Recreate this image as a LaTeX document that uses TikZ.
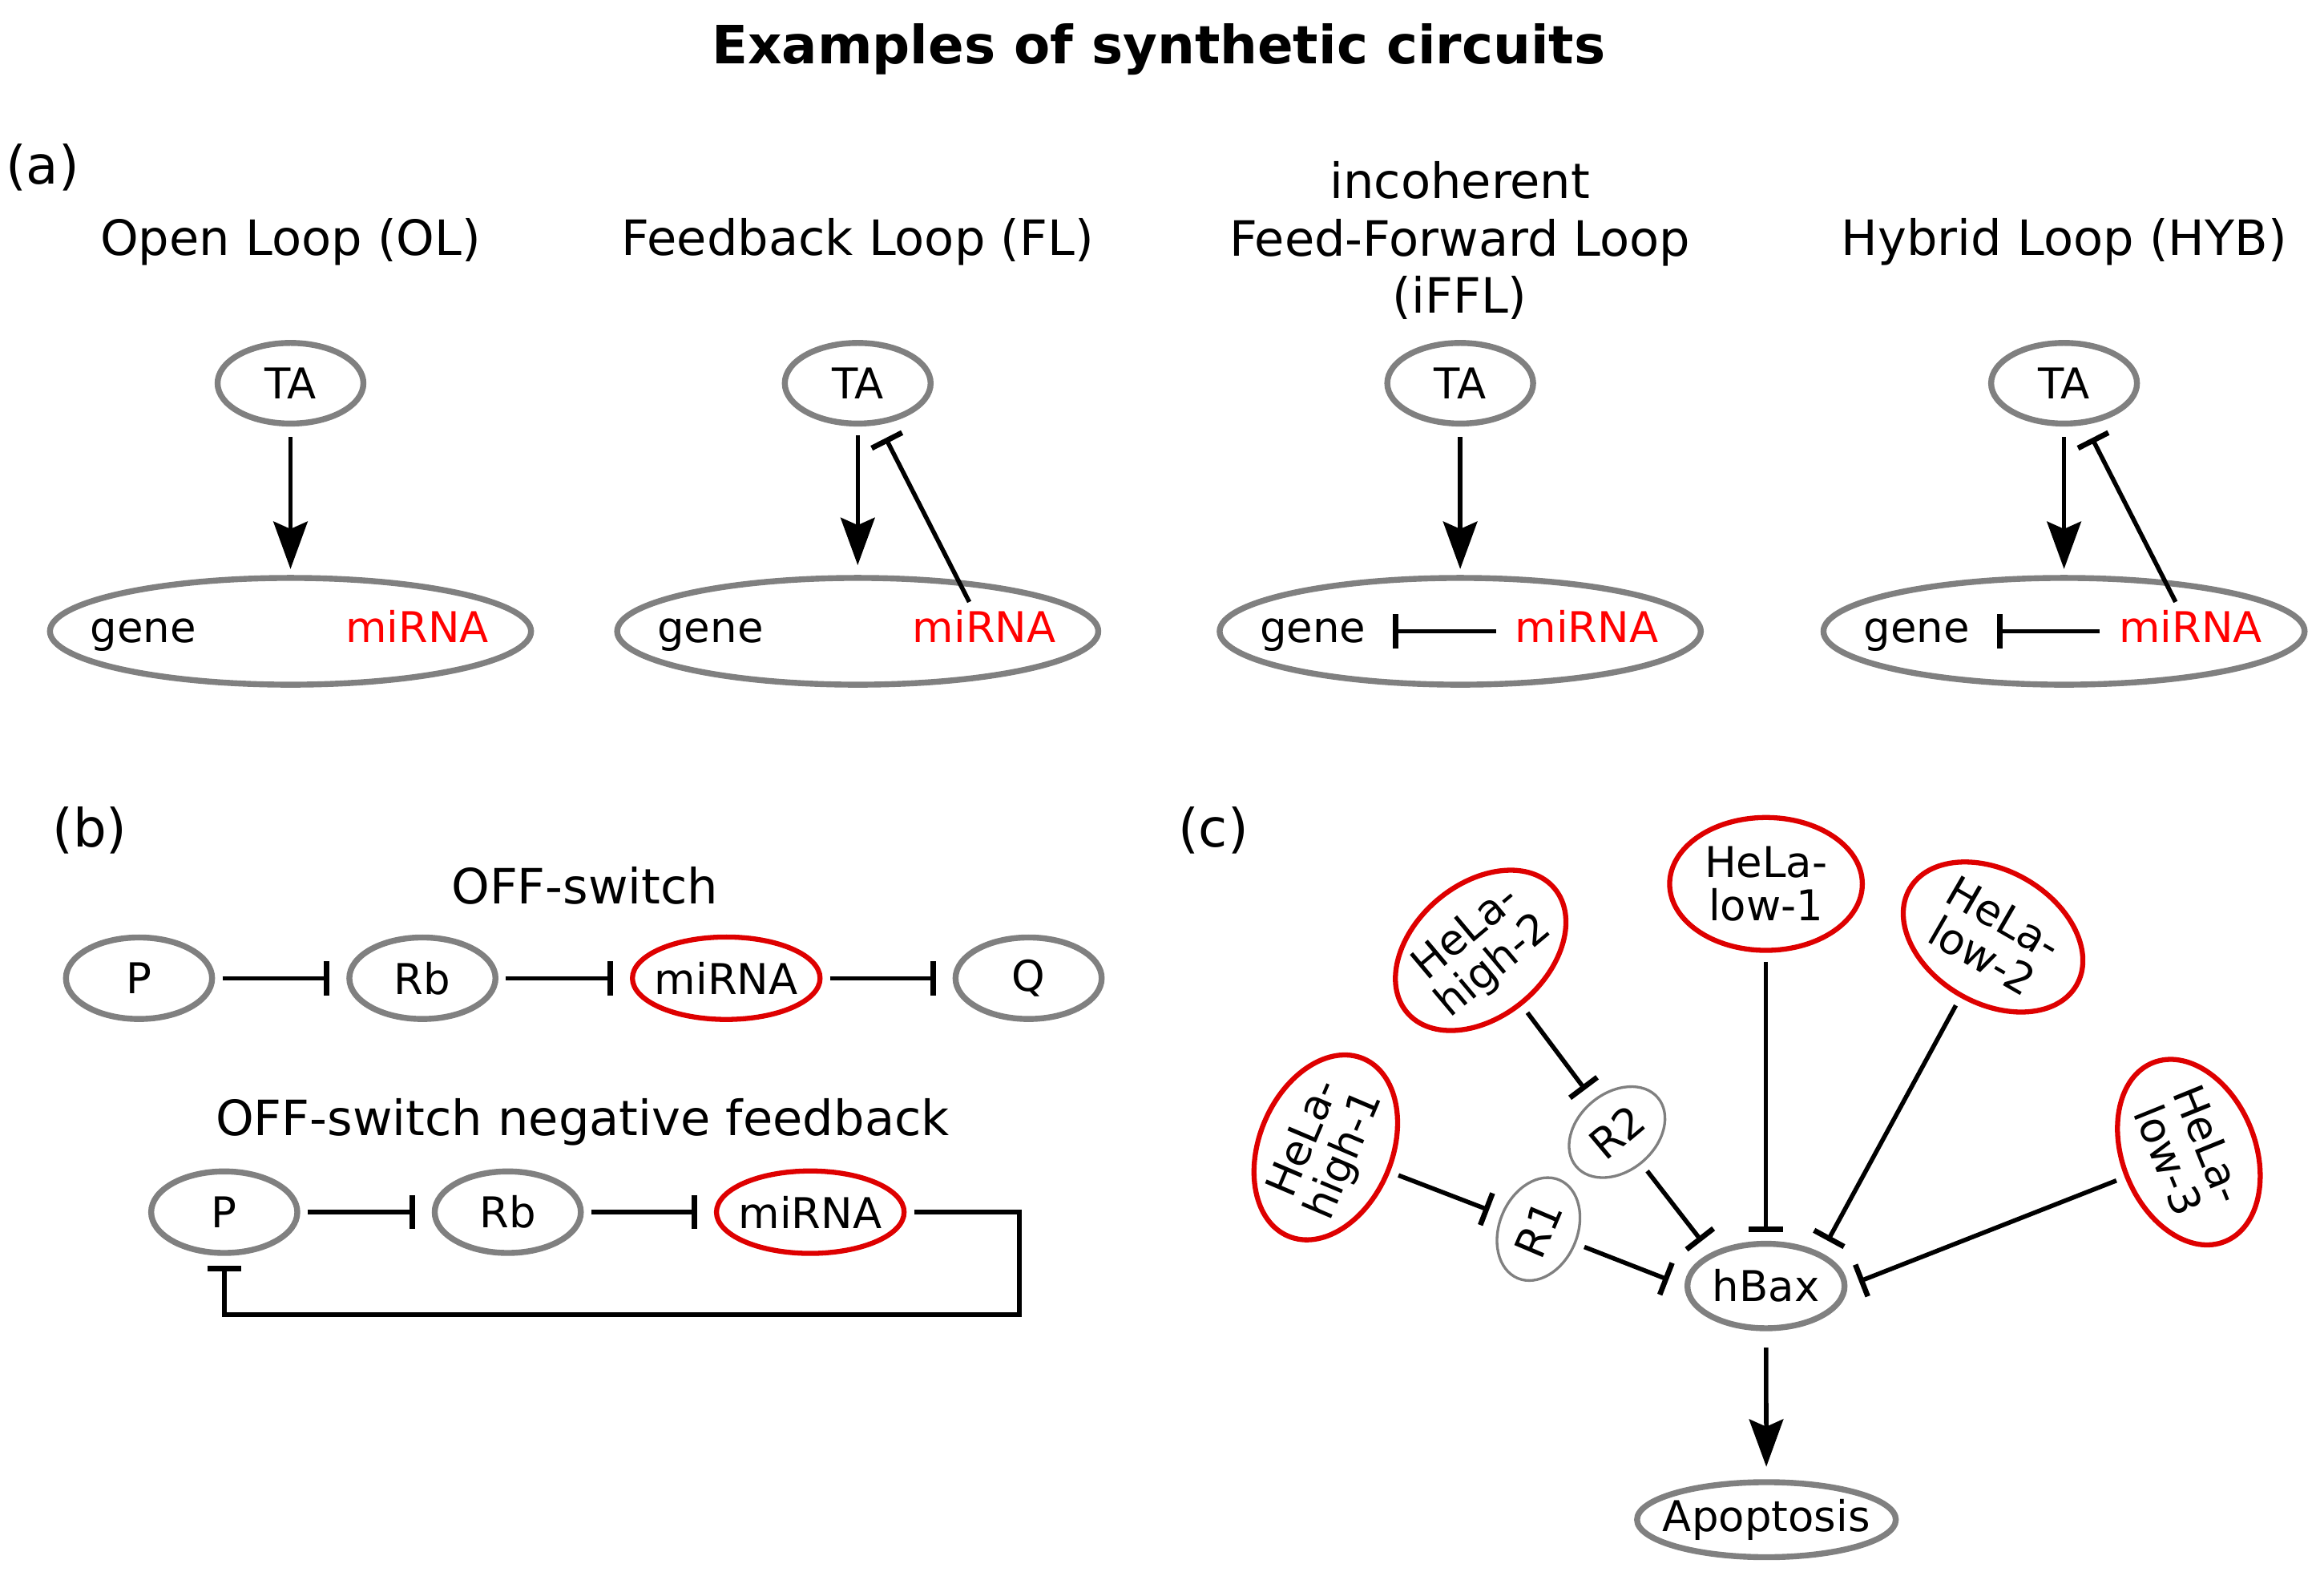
\documentclass[tikz,border=0pt]{standalone}
\usepackage{fontspec}
\setmainfont{DejaVu Sans}
\usetikzlibrary{arrows.meta,shapes.geometric}
\definecolor{nodegray}{RGB}{128,128,128}
\definecolor{nodered}{RGB}{222,0,0}
\definecolor{txtred}{RGB}{255,0,0}
\begin{document}
\begin{tikzpicture}[x=0.5pt,y=-0.5pt,
  lab/.style={font=\fontsize{14.3}{14.7}\selectfont},
  ttl/.style={font=\fontsize{16.4}{19.3}\selectfont, align=center, anchor=base, inner sep=0pt},
  sec/.style={font=\fontsize{17.8}{20}\selectfont, anchor=base west, inner sep=0pt},
  gnode/.style={ellipse, draw=nodegray, line width=2pt, inner sep=0pt, lab},
  rnode/.style={ellipse, draw=nodered, line width=1.7pt, inner sep=0pt, align=center, lab},
  tnode/.style={ellipse, draw=nodegray, line width=0.9pt, inner sep=0pt, lab},
  txt/.style={lab, anchor=base, inner sep=3pt, text height=10.5pt, text depth=3pt},
  act/.style={line width=1.5pt, -{Stealth[length=16pt, width=11.5pt, inset=2.5pt]}},
  inh/.style={line width=1.5pt, -{Bar[width=11.5pt, line width=1.8pt]}},
]
\useasboundingbox (0,0) rectangle (1568,1065.2);

\node[font=\bfseries\fontsize{17.8}{20}\selectfont, anchor=base, inner sep=0pt] (title) at (781.7,42.8) {Examples of synthetic circuits};

% ---------------- (a)
\node[sec] (la) at (3.5,124) {(a)};
\node[ttl] (tOL) at (196,172.3) {Open Loop (OL)};
\node[ttl] (tFL) at (578.7,172.3) {Feedback Loop (FL)};
\node[ttl] (tFF) at (985,211.1) {incoherent\\Feed-Forward Loop\\(iFFL)};
\node[ttl] (tHY) at (1392.6,172.3) {Hybrid Loop (HYB)};

\foreach \n/\x in {OL/196, FL/578.7, FF/985.2, HY/1392.6}{
  \node[gnode, minimum width=49.2pt, minimum height=27.2pt] (ta\n) at (\x,258.5) {TA};
  \node[gnode, minimum width=162.3pt, minimum height=36pt] (b\n) at (\x,425.8) {};
  \node[txt] (g\n) at (\x-99.4,433.4) {gene};
  \node[txt, text=txtred] (m\n) at (\x+85.4,433.4) {miRNA};
}
\draw[act, shorten <=3.5pt, shorten >=2pt] (taOL) -- (bOL);
\draw[act, shorten <=3pt, shorten >=3.3pt] (taFL) -- (bFL);
\draw[act, shorten <=3.5pt, shorten >=2pt] (taFF) -- (bFF);
\draw[act, shorten <=3.5pt, shorten >=2pt] (taHY) -- (bHY);
\draw[inh, shorten >=5pt] (mFL) -- (taFL);
\draw[inh, shorten >=5pt] (mHY) -- (taHY);
\draw[inh, shorten <=3.3pt, shorten >=6pt] (mFF) -- (gFF);
\draw[inh, shorten <=3.3pt, shorten >=6pt] (mHY) -- (gHY);

% ---------------- (b)
\node[sec] (lb) at (35,571) {(b)};
\node[ttl] (tOS) at (394.6,609.7) {OFF-switch};
\node[ttl] (tNF) at (393,766) {OFF-switch negative feedback};

\node[gnode, minimum width=49.3pt, minimum height=27.5pt] (p1) at (93.8,659.8) {P};
\node[gnode, minimum width=49.3pt, minimum height=27.5pt] (r1) at (285,659.8) {Rb};
\node[rnode, minimum width=63.3pt, minimum height=27.8pt] (m1) at (490,659.8) {\makebox[0pt]{miRNA}};
\node[gnode, minimum width=49.3pt, minimum height=27.5pt] (q1) at (694,659.8) {Q};
\draw[inh, shorten <=2.5pt, shorten >=5.7pt] (p1) -- (r1);
\draw[inh, shorten <=2.5pt, shorten >=5.7pt] (r1) -- (m1);
\draw[inh, shorten <=2.5pt, shorten >=5.7pt] (m1) -- (q1);

\node[gnode, minimum width=49.3pt, minimum height=27.5pt] (p2) at (151.3,817.6) {P};
\node[gnode, minimum width=49.3pt, minimum height=27.5pt] (r2) at (342.6,817.6) {Rb};
\node[rnode, minimum width=63.3pt, minimum height=27.8pt] (m2) at (546.7,817.6) {\makebox[0pt]{miRNA}};
\draw[inh, shorten <=2.5pt, shorten >=5.7pt] (p2) -- (r2);
\draw[inh, shorten <=2.5pt, shorten >=5.7pt] (r2) -- (m2);
\coordinate (fb) at (687.7,886.8);
\draw[inh, shorten <=2.5pt, shorten >=3.4pt] (m2) -| (fb) -| (p2);

% ---------------- (c)
\node[sec] (lc) at (794.5,571) {(c)};
\node[rnode, minimum width=65pt, minimum height=44.8pt] (low1) at (1191.5,596.2) {HeLa-\\low-1};
\node[rnode, minimum width=65pt, minimum height=44.8pt, rotate=40] (high2) at (999,641) {HeLa-\\high-2};
\node[rnode, minimum width=65pt, minimum height=44.8pt, rotate=-30] (low2) at (1344.7,632) {HeLa-\\low-2};
\node[rnode, minimum width=65pt, minimum height=44.8pt, rotate=67] (high1) at (894.5,773.9) {HeLa-\\high-1};
\node[rnode, minimum width=65pt, minimum height=44.8pt, rotate=-68] (low3) at (1476.8,777.1) {HeLa-\\low-3};
\node[tnode, minimum width=36pt, minimum height=26.3pt, rotate=40] (R2) at (1091,763.6) {R2};
\node[tnode, minimum width=36pt, minimum height=26.3pt, rotate=67] (R1) at (1038,829) {R1};
\node[gnode, minimum width=53pt, minimum height=28.5pt] (hbax) at (1191.5,867.4) {hBax};
\node[gnode, minimum width=87.3pt, minimum height=25.3pt] (apo) at (1191.8,1025) {\makebox[0pt]{Apoptosis}};

\draw[inh, shorten <=3pt, shorten >=4.3pt] (high1) -- (R1);
\draw[inh, shorten <=3pt, shorten >=5.8pt] (R1) -- (hbax.west);
\draw[inh, shorten <=3pt, shorten >=4.3pt] (high2) -- (R2);
\draw[inh, shorten <=3pt, shorten >=5pt] (R2) -- (hbax.149);
\draw[inh, shorten <=3pt, shorten >=3pt] (low1) -- (hbax);
\draw[inh, shorten <=3pt, shorten >=4.6pt] (low2) -- (hbax.31);
\draw[inh, shorten <=3pt, shorten >=4.2pt] (low3) -- (hbax.east);
\draw[act, shorten <=5.5pt, shorten >=4.2pt] (hbax) -- (apo);
\end{tikzpicture}
\end{document}
